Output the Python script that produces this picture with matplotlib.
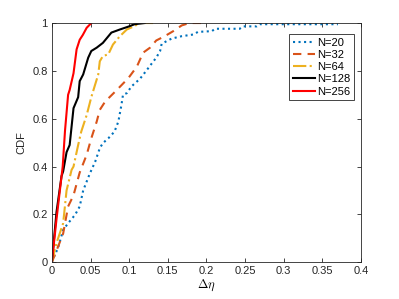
import matplotlib
matplotlib.use("Agg")
import matplotlib.pyplot as plt

plt.rcParams["font.family"] = ["Liberation Sans", "DejaVu Sans"]
plt.rcParams["mathtext.fontset"] = "cm"

# Delta eta vs CDF
x20 = [0, 0.002, 0.008, 0.0146, 0.021, 0.03, 0.036, 0.0405, 0.049, 0.056, 0.062,
       0.066, 0.073, 0.081, 0.086, 0.09, 0.092, 0.097, 0.103, 0.114, 0.122, 0.129,
       0.135, 0.14, 0.142, 0.15, 0.155, 0.168, 0.183, 0.189, 0.207, 0.211, 0.243,
       0.247, 0.265, 0.269, 0.37]
y20 = [0, 0.017, 0.06, 0.135, 0.163, 0.198, 0.233, 0.30, 0.37, 0.42, 0.477,
       0.498, 0.518, 0.546, 0.588, 0.658, 0.70, 0.707, 0.735, 0.767, 0.80, 0.83,
       0.855, 0.883, 0.913, 0.927, 0.935, 0.945, 0.952, 0.963, 0.966, 0.976, 0.976,
       0.986, 0.986, 0.995, 0.995]

x32 = [0, 0.008, 0.0146, 0.021, 0.028, 0.036, 0.045, 0.051, 0.058, 0.062, 0.069,
       0.084, 0.099, 0.11, 0.118, 0.127, 0.135, 0.146, 0.157, 0.168, 0.178, 0.198]
y32 = [0, 0.065, 0.12, 0.233, 0.28, 0.375, 0.449, 0.518, 0.588, 0.637, 0.672,
       0.72, 0.77, 0.818, 0.876, 0.897, 0.927, 0.945, 0.966, 0.99, 1.0, 1.0]

x64 = [0, 0.006, 0.0146, 0.019, 0.0255, 0.028, 0.034, 0.038, 0.045, 0.051, 0.056,
       0.06, 0.062, 0.066, 0.073, 0.079, 0.088, 0.097, 0.107, 0.113, 0.135]
y64 = [0, 0.08, 0.163, 0.30, 0.386, 0.40, 0.49, 0.546, 0.615, 0.69, 0.743,
       0.785, 0.84, 0.862, 0.869, 0.91, 0.945, 0.973, 0.987, 1.0, 1.0]

x128 = [0, 0.006, 0.0125, 0.0146, 0.019, 0.023, 0.028, 0.034, 0.036, 0.0405,
        0.047, 0.051, 0.058, 0.066, 0.077, 0.088, 0.099, 0.107, 0.12]
y128 = [0, 0.21, 0.36, 0.38, 0.46, 0.49, 0.644, 0.69, 0.757, 0.785,
        0.855, 0.883, 0.897, 0.917, 0.96, 0.973, 0.985, 0.995, 1.0]

x256 = [0, 0.006, 0.014, 0.017, 0.021, 0.023, 0.028, 0.032, 0.036, 0.04, 0.045, 0.051]
y256 = [0, 0.18, 0.40, 0.55, 0.70, 0.72, 0.79, 0.89, 0.93, 0.95, 0.98, 1.0]

series = [
    (x20, y20, "N=20", "#0072BD", ":"),
    (x32, y32, "N=32", "#D95319", (0, (4, 3))),
    (x64, y64, "N=64", "#EDB120", "-."),
    (x128, y128, "N=128", "black", "-"),
    (x256, y256, "N=256", "#FF0000", "-"),
]

fig = plt.figure(figsize=(3.99, 2.99), dpi=100)
ax = fig.add_axes([0.130, 0.123, 0.775, 0.800])
for xs, ys, lab, col, ls in series:
    ax.plot(xs, ys, color=col, linestyle=ls, linewidth=1.5, label=lab)

ax.set_xlim(0, 0.4)
ax.set_ylim(0, 1)
ax.set_xticks([0, 0.05, 0.1, 0.15, 0.2, 0.25, 0.3, 0.35, 0.4])
ax.set_xticklabels(["0", "0.05", "0.1", "0.15", "0.2", "0.25", "0.3", "0.35", "0.4"])
ax.set_yticks([0, 0.2, 0.4, 0.6, 0.8, 1])
ax.set_yticklabels(["0", "0.2", "0.4", "0.6", "0.8", "1"])
ax.tick_params(direction="in", length=3, width=0.6, labelsize=8, colors="#262626",
               top=True, right=True, pad=3)
for s in ax.spines.values():
    s.set_color("#262626")
    s.set_linewidth(0.6)
ax.set_xlabel(r"$\Delta\eta$", fontsize=9, labelpad=1)
ax.set_ylabel("CDF", fontsize=8, color="#262626", labelpad=4)

leg = ax.legend(loc="upper right", bbox_to_anchor=(0.983, 0.962), fontsize=8,
                fancybox=False, edgecolor="#262626", handlelength=2.0,
                handletextpad=0.2, borderpad=0.3, labelspacing=0.2,
                borderaxespad=0.2, framealpha=1)
leg.get_frame().set_linewidth(0.6)

fig.savefig("out.png", dpi=100)
